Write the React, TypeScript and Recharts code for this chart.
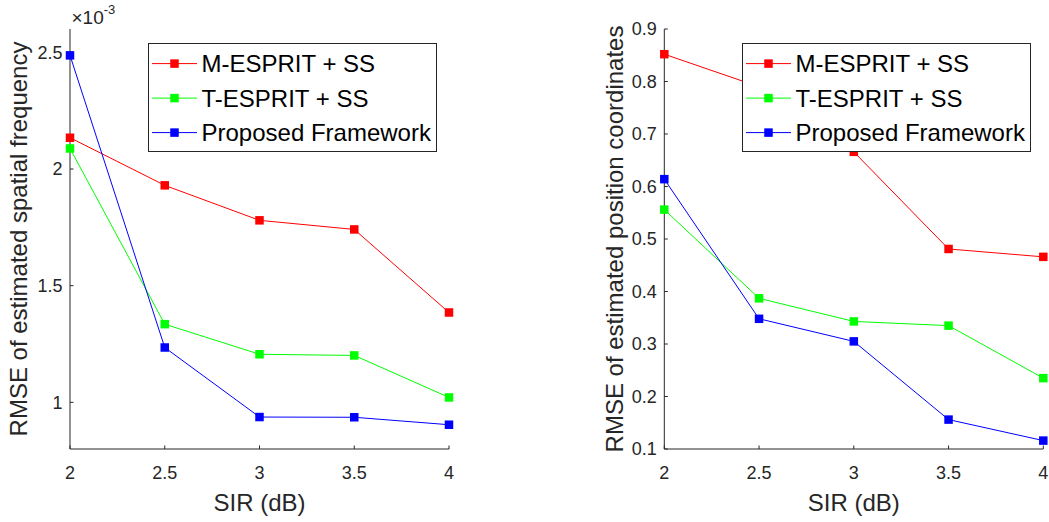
import React from 'react';
import { LineChart, Line, XAxis, YAxis, Legend } from 'recharts';

// SIR sweep (dB)
const sirDb = [2, 2.5, 3, 3.5, 4];

// RMSE of estimated spatial frequency, in units of 1e-3
const freqMEsprit = [2.134, 1.93, 1.78, 1.741, 1.385];
const freqTEsprit = [2.088, 1.335, 1.206, 1.201, 1.021];
const freqProposed = [2.487, 1.235, 0.937, 0.936, 0.904];

// RMSE of estimated position coordinates
const posMEsprit = [0.852, 0.79, 0.666, 0.481, 0.466];
const posTEsprit = [0.556, 0.387, 0.343, 0.335, 0.235];
const posProposed = [0.614, 0.348, 0.305, 0.156, 0.116];

const xTicks = [2, 2.5, 3, 3.5, 4];
const freqTicks = [1, 1.5, 2, 2.5];
const posTicks = [0.1, 0.2, 0.3, 0.4, 0.5, 0.6, 0.7, 0.8, 0.9];

const seriesNames = ['M-ESPRIT + SS', 'T-ESPRIT + SS', 'Proposed Framework'];
const seriesColors = ['#ff0000', '#00ff00', '#0000ff'];
const seriesKeys = ['m', 't', 'p'];

const FONT = '"Liberation Sans", Arial, Helvetica, sans-serif';
const AXIS = '#262626';

const buildRows = (m: number[], t: number[], p: number[]) =>
  sirDb.map((x, i) => ({ x, m: m[i], t: t[i], p: p[i] }));

const freqRows = buildRows(freqMEsprit, freqTEsprit, freqProposed);
const posRows = buildRows(posMEsprit, posTEsprit, posProposed);

const squareDot = (color: string) => (props: any) => {
  const { cx, cy, index } = props;
  return <rect key={`d${index}`} x={cx - 4.25} y={cy - 4.25} width={8.5} height={8.5} fill={color} />;
};

function LegendBox() {
  return (
    <svg width={289} height={109} style={{ display: 'block' }}>
      <rect x={0.5} y={0.5} width={288} height={108} fill="#ffffff" stroke={AXIS} strokeWidth={1} />
      {seriesNames.map((name, i) => {
        const cy = 20.6 + i * 34.5;
        return (
          <g key={name}>
            <line x1={4} x2={49} y1={cy} y2={cy} stroke={seriesColors[i]} strokeWidth={1} />
            <rect x={26.5 - 4.25} y={cy - 4.25} width={8.5} height={8.5} fill={seriesColors[i]} />
            <text x={53.5} y={cy + 8.6} fontSize={24} fontFamily={FONT} fill="#000000">
              {name}
            </text>
          </g>
        );
      })}
    </svg>
  );
}

type PanelProps = {
  width: number;
  rows: any[];
  yDomain: [number, number];
  yTicks: number[];
  yLabel: string;
  yLabelX: number;
  marginLeft: number;
  marginRight: number;
  legendLeft: number;
  multiplier?: boolean;
};

function Panel(props: PanelProps) {
  const { width, rows, yDomain, yTicks, yLabel, yLabelX, marginLeft, marginRight, legendLeft, multiplier } = props;
  const tickStyle = { fill: AXIS, fontSize: 18, fontFamily: FONT };
  return (
    <LineChart
      width={width}
      height={522}
      data={rows}
      margin={{ top: 29, right: marginRight, bottom: 43, left: marginLeft }}
    >
      <XAxis
        xAxisId="bottom"
        dataKey="x"
        type="number"
        domain={[2, 4]}
        ticks={xTicks}
        height={30}
        stroke={AXIS}
        tickSize={-3.5}
        tickMargin={20.5}
        tick={tickStyle}
        label={(p: any) => {
          const vb = p.viewBox || {};
          return (
            <text
              x={vb.x + vb.width / 2}
              y={511}
              textAnchor="middle"
              fontSize={24}
              fontFamily={FONT}
              fill={AXIS}
            >
              SIR (dB)
            </text>
          );
        }}
      />
      <XAxis
        xAxisId="top"
        orientation="top"
        dataKey="x"
        type="number"
        domain={[2, 4]}
        ticks={xTicks}
        height={0}
        stroke={AXIS}
        tickSize={-3.5}
        tick={() => <g />}
      />
      <YAxis
        yAxisId="left"
        type="number"
        domain={yDomain}
        ticks={yTicks}
        width={60}
        stroke={AXIS}
        tickSize={-3.5}
        tickMargin={11}
        tick={tickStyle}
        label={(p: any) => {
          const vb = p.viewBox || {};
          const cy = vb.y + vb.height / 2;
          return (
            <g>
              <text
                x={yLabelX}
                y={cy}
                transform={`rotate(-90, ${yLabelX}, ${cy})`}
                textAnchor="middle"
                fontSize={24}
                fontFamily={FONT}
                fill={AXIS}
              >
                {yLabel}
              </text>
              {multiplier ? (
                <text x={vb.x + vb.width + 1.5} y={24} fontSize={19} fontFamily={FONT} fill={AXIS}>
                  ×10
                  <tspan fontSize={13} dy={-10}>
                    -3
                  </tspan>
                </text>
              ) : null}
            </g>
          );
        }}
      />
      <YAxis
        yAxisId="right"
        orientation="right"
        type="number"
        domain={yDomain}
        ticks={yTicks}
        width={0}
        stroke={AXIS}
        tickSize={-3.5}
        tick={() => <g />}
      />
      {seriesKeys.map((k, i) => (
        <Line
          key={k}
          xAxisId="bottom"
          yAxisId="left"
          type="linear"
          dataKey={k}
          name={seriesNames[i]}
          stroke={seriesColors[i]}
          strokeWidth={1}
          dot={squareDot(seriesColors[i])}
          activeDot={false}
          isAnimationActive={false}
        />
      ))}
      <Legend
        layout="vertical"
        align="center"
        verticalAlign="middle"
        wrapperStyle={{ position: 'absolute', left: legendLeft, top: 42.7, width: 289, height: 109 }}
        content={() => <LegendBox />}
      />
    </LineChart>
  );
}

export default function App() {
  return (
    <div
      style={{
        position: 'absolute',
        left: 0,
        top: 0,
        width: 1049,
        height: 522,
        background: '#ffffff',
        overflow: 'hidden',
      }}
    >
      <div style={{ position: 'absolute', left: 0, top: 0 }}>
        <Panel
          width={460}
          rows={freqRows}
          yDomain={[0.8, 2.6]}
          yTicks={freqTicks}
          yLabel="RMSE of estimated spatial frequency"
          yLabelX={27}
          marginLeft={10}
          marginRight={11}
          legendLeft={147.7}
          multiplier
        />
      </div>
      <div style={{ position: 'absolute', left: 560, top: 0 }}>
        <Panel
          width={489}
          rows={posRows}
          yDomain={[0.1, 0.9]}
          yTicks={posTicks}
          yLabel="RMSE of estimated position coordinates"
          yLabelX={63}
          marginLeft={44.3}
          marginRight={5.7}
          legendLeft={181.7}
        />
      </div>
    </div>
  );
}
